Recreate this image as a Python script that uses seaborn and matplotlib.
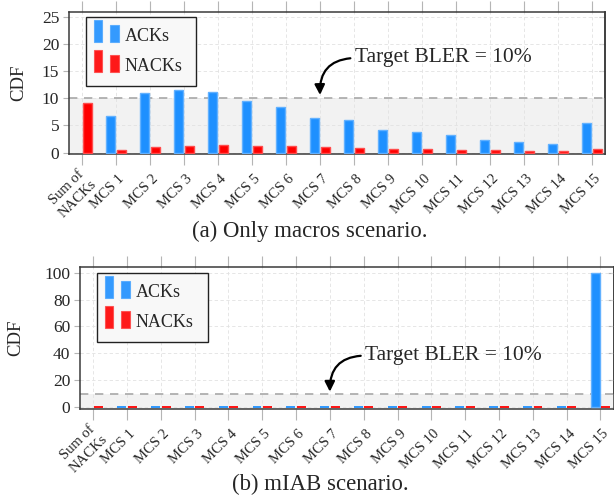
import numpy as np
import pandas as pd
import matplotlib
matplotlib.use("Agg")
import matplotlib.pyplot as plt
import matplotlib.transforms as mtransforms
from matplotlib.patches import Rectangle, Patch
from matplotlib.legend_handler import HandlerBase
import seaborn as sns

# ---------------- data ----------------
categories = ["Sum of\nNACKs"] + [f"MCS {i}" for i in range(1, 16)]
series = ["ACKs", "NACKs"]

acks_macro = [np.nan, 6.67, 11.0, 11.5, 11.2, 9.4, 8.33, 6.4, 6.0, 4.2, 3.85, 3.2, 2.25, 2.0, 1.5, 5.45]
nacks_macro = [9.1, 0.54, 1.0, 1.3, 1.43, 1.3, 1.19, 1.0, 0.83, 0.7, 0.6, 0.5, 0.4, 0.35, 0.35, 0.6]

acks_miab = [np.nan, 0, 0, 0, 0, 0, 0, 0, 0, 0, 0, 0, 0, 0, 0, 100]
nacks_miab = [0, 0, 0, 0, 0, 0, 0, 0, 0, 0, 0, 0, 0, 0, 0, 0]

yticks_macro = [0, 5, 10, 15, 20, 25]
yticks_miab = [0, 20, 40, 60, 80, 100]
target_bler = 10

captions = ["(a) Only macros scenario.", "(b) mIAB scenario."]
annotation_text = "Target BLER = 10%"

# ---------------- style ----------------
sns.set_theme(style="white")
plt.rcParams["font.family"] = ["Liberation Serif", "DejaVu Serif"]

colors = {"ACKs": "#1E90FF", "NACKs": "#FF0000"}
edge_colors = {"ACKs": "#55AAFF", "NACKs": "#FF4D4D"}


class TwoBars(HandlerBase):
    def create_artists(self, legend, orig_handle, xdescent, ydescent,
                       width, height, fontsize, trans):
        fc = orig_handle.get_facecolor()
        ec = orig_handle.get_edgecolor()
        x0 = -xdescent - 0.18 * fontsize
        y0 = -0.06 * fontsize
        r1 = Rectangle((x0, y0), 0.47 * fontsize, 1.24 * fontsize, facecolor=fc,
                       edgecolor=ec, lw=0.8, transform=trans)
        r2 = Rectangle((x0 + 0.89 * fontsize, y0), 0.5 * fontsize, 0.93 * fontsize,
                       facecolor=fc, edgecolor=ec, lw=0.8, transform=trans)
        return [r1, r2]


fig = plt.figure(figsize=(6.14, 4.99), dpi=100)
ax1 = fig.add_axes([0.1124, 0.6914, 0.873, 0.284])
ax2 = fig.add_axes([0.1303, 0.1804, 0.869, 0.2836])


def draw(ax, acks, nacks, ylim, yticks, leg_box, ann_xy, ann_text_xy, ylabel_x):
    df = pd.DataFrame({
        "cat": categories * 2,
        "val": list(acks) + list(nacks),
        "type": [series[0]] * len(categories) + [series[1]] * len(categories),
    })
    sns.barplot(data=df, x="cat", y="val", hue="type", order=categories,
                hue_order=series, palette=colors, saturation=1, width=0.62,
                gap=0.15, errorbar=None, ax=ax, legend=False, zorder=3)
    for p in ax.patches:
        fc = p.get_facecolor()
        if abs(p.get_height()) < 1e-9:
            p.set_edgecolor(fc)
            p.set_linewidth(1.3)
        else:
            ec = tuple(min(1, c + 0.3 * (1 - c)) for c in fc[:3])
            p.set_edgecolor(ec)
            p.set_linewidth(1.0)

    ax.set_xlim(-0.39, len(categories) - 1 + 0.39)
    ax.set_ylim(*ylim)
    ax.set_yticks(yticks)
    ax.set_xlabel("")

    ax.axhspan(ylim[0], target_bler, facecolor="#F2F2F2", lw=0, zorder=0.2)
    ax.axhline(target_bler, color="#A8A8A8", lw=1.2, ls=(0, (5, 4)), zorder=1)
    ax.set_axisbelow(True)
    ax.grid(True, color="#E2E2E2", lw=0.6, ls=(0, (4, 3)))

    for s in ax.spines.values():
        s.set_visible(True)
        s.set_color("#3A3A3A")
        s.set_linewidth(1.1)

    ax.tick_params(axis="x", direction="out", length=8, width=0.8,
                   color="#B5B5B5", top=True, bottom=True, pad=8.5, labelsize=10.5)
    ax.tick_params(axis="y", direction="out", length=4, width=0.8,
                   color="#B5B5B5", left=True, labelsize=12.5, pad=3)
    sec = ax.secondary_yaxis("right")
    sec.set_yticks(yticks)
    sec.tick_params(direction="in", length=4, width=0.8, color="#B5B5B5",
                    labelright=False)
    sec.spines["right"].set_color("#3A3A3A")
    sec.spines["right"].set_linewidth(1.1)

    ax.set_ylabel("CDF", fontsize=13.5)
    ax.yaxis.set_label_coords(ylabel_x, 0.5)

    handles = [Patch(facecolor=colors[s], edgecolor=edge_colors[s], alpha=0.9) for s in series]
    leg = ax.legend(handles, series, loc="upper left", bbox_to_anchor=leg_box,
                    mode="expand", borderaxespad=0, frameon=True, fancybox=False,
                    edgecolor="#222222", facecolor="#F8F8F8", framealpha=1,
                    fontsize=13, handlelength=1.2, handleheight=0.7,
                    handletextpad=0.35, labelspacing=0.71, borderpad=0.63,
                    handler_map={Patch: TwoBars()})
    leg.get_frame().set_linewidth(1.0)
    leg.set_zorder(6)

    ax.annotate(annotation_text, xy=ann_xy, xytext=ann_text_xy, fontsize=15.5,
                ha="left", va="center", zorder=5,
                arrowprops=dict(arrowstyle="-|>", connectionstyle="arc3,rad=0.5",
                                color="black", lw=1.6, mutation_scale=15,
                                shrinkA=1, shrinkB=0, relpos=(0, 0.5)))

    ax.set_xticks(range(len(categories)))
    ax.set_xticklabels(categories, rotation=45, ha="right", va="center",
                       rotation_mode="anchor", multialignment="center",
                       linespacing=1.3)
    offset = mtransforms.ScaledTranslation(6.4 / 100, 0, fig.dpi_scale_trans)
    for lbl in ax.get_xticklabels():
        lbl.set_transform(lbl.get_transform() + offset)


draw(ax1, acks_macro, nacks_macro, (-0.25, 25.8), yticks_macro,
     (0.031, 0.969 - 0.47, 0.206, 0.47), (7, 10.6), (8.03, 17.4), -0.078)
draw(ax2, acks_miab, nacks_miab, (-1.5, 104), yticks_miab,
     (0.031, 0.963 - 0.47, 0.208, 0.47), (7, 11.4), (8.05, 38.3), -0.105)

fig.text(310 / 614, 1 - 231 / 499, captions[0], ha="center", va="center", fontsize=16.4)
fig.text(320 / 614, 1 - 484 / 499, captions[1], ha="center", va="center", fontsize=16.4)

fig.savefig("out.png", dpi=100)
